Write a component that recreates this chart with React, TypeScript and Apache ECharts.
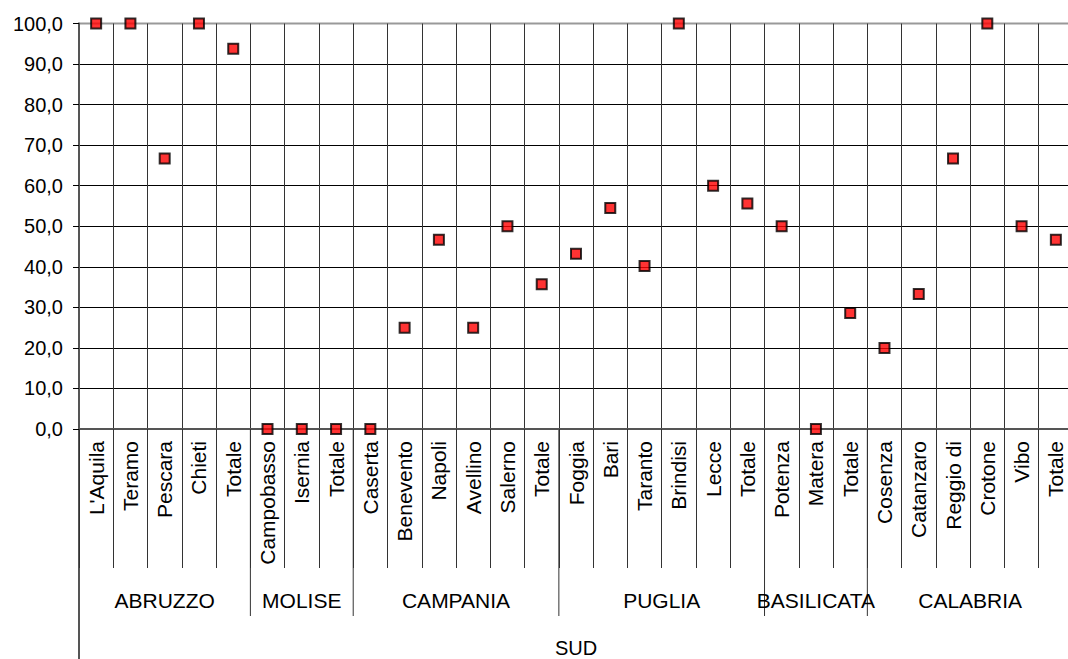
import React, { useEffect, useRef } from "react";
import * as echarts from "echarts";

const categories = [
  "L'Aquila", "Teramo", "Pescara", "Chieti", "Totale",
  "Campobasso", "Isernia", "Totale",
  "Caserta", "Benevento", "Napoli", "Avellino", "Salerno", "Totale",
  "Foggia", "Bari", "Taranto", "Brindisi", "Lecce", "Totale",
  "Potenza", "Matera", "Totale",
  "Cosenza", "Catanzaro", "Reggio di", "Crotone", "Vibo", "Totale",
];
const values = [
  100, 100, 66.7, 100, 93.8,
  0, 0, 0,
  0, 25, 46.7, 25, 50, 35.7,
  43.2, 54.5, 40.2, 100, 60, 55.6,
  50, 0, 28.6,
  20, 33.3, 66.7, 100, 50, 46.7,
];
const regions = ["ABRUZZO", "MOLISE", "CAMPANIA", "PUGLIA", "BASILICATA", "CALABRIA"];
const regionSizes = [5, 3, 6, 6, 3, 6];
const macroRegion = "SUD";
const yMin = 0;
const yMax = 100;
const yStep = 10;

const FONT = '"Liberation Sans", Arial, sans-serif';

export default function App() {
  const ref = useRef<HTMLDivElement>(null);
  useEffect(() => {
    if (!ref.current) return;
    const chart = echarts.init(ref.current, undefined, { renderer: "svg" });
    chart.setOption({
      animation: false,
      textStyle: { fontFamily: FONT, color: "#000" },
      grid: {
        left: 79,
        top: 23.5,
        height: 405.5,
        width: 994,
        show: true,
        borderColor: "#999",
        borderWidth: 2,
        backgroundColor: "transparent",
      },
      xAxis: {
        type: "category",
        data: categories,
        boundaryGap: true,
        axisLine: { show: true, lineStyle: { color: "#555", width: 2 } },
        axisTick: {
          show: true,
          interval: 0,
          alignWithLabel: false,
          length: 139,
          lineStyle: { color: "#333", width: 1 },
        },
        axisLabel: {
          interval: 0,
          rotate: 90,
          margin: 12,
          fontSize: 21,
          lineHeight: 16,
          fontFamily: FONT,
          color: "#000",
        },
        splitLine: { show: true, interval: 0, lineStyle: { color: "#333", width: 1 } },
      },
      yAxis: {
        type: "value",
        min: yMin,
        max: yMax,
        interval: yStep,
        axisLine: { show: true, lineStyle: { color: "#555", width: 2 } },
        axisTick: { show: true, length: 6, lineStyle: { color: "#000" } },
        axisLabel: {
          margin: 16,
          fontSize: 20,
          fontFamily: FONT,
          color: "#000",
          formatter: (v: number) => v.toFixed(1).replace(".", ","),
        },
        splitLine: { show: true, showMaxLine: false, lineStyle: { color: "#000", width: 1 } },
      },
      series: [
        {
          type: "scatter",
          data: values,
          symbol: "rect",
          symbolSize: 10,
          clip: false,
          itemStyle: { color: "#ff0000", borderColor: "#000", borderWidth: 2 },
          z: 5,
        },
      ],
    });

    const cx = (i: number) => chart.convertToPixel({ xAxisIndex: 0 }, i) as number;
    const w = cx(1) - cx(0);
    const bound = (i: number) => cx(0) + (i - 0.5) * w;
    const y0 = chart.convertToPixel({ yAxisIndex: 0 }, 0) as number;
    const graphics: any[] = [];
    graphics.push({
      type: "line",
      silent: true,
      shape: { x1: bound(0), y1: y0, x2: bound(0), y2: 659 },
      style: { stroke: "#555", lineWidth: 2 },
    });
    let start = 0;
    regions.forEach((name, k) => {
      const end = start + regionSizes[k];
      if (start > 0) {
        graphics.push({
          type: "line",
          silent: true,
          shape: { x1: bound(start), y1: y0, x2: bound(start), y2: y0 + 187 },
          style: { stroke: "#333", lineWidth: 1 },
        });
      }
      graphics.push({
        type: "text",
        silent: true,
        z: 10,
        style: {
          text: name,
          x: (bound(start) + bound(end)) / 2,
          y: 600,
          fill: "#000",
          font: `21px ${FONT}`,
          align: "center",
          verticalAlign: "middle",
          textAlign: "center",
          textVerticalAlign: "middle",
        },
      });
      start = end;
    });
    graphics.push({
      type: "text",
      silent: true,
      style: {
        text: macroRegion,
        x: (bound(0) + bound(categories.length)) / 2,
        y: 648,
        fill: "#000",
        font: `20px ${FONT}`,
        align: "center",
        verticalAlign: "middle",
        textAlign: "center",
        textVerticalAlign: "middle",
      },
    });
    chart.setOption({ graphic: graphics });

    return () => chart.dispose();
  }, []);
  return (
    <div
      style={{
        position: "absolute",
        left: 0,
        top: 0,
        width: 1068,
        height: 659,
        overflow: "hidden",
      }}
    >
      <div ref={ref} style={{ width: 1090, height: 659 }} />
    </div>
  );
}
